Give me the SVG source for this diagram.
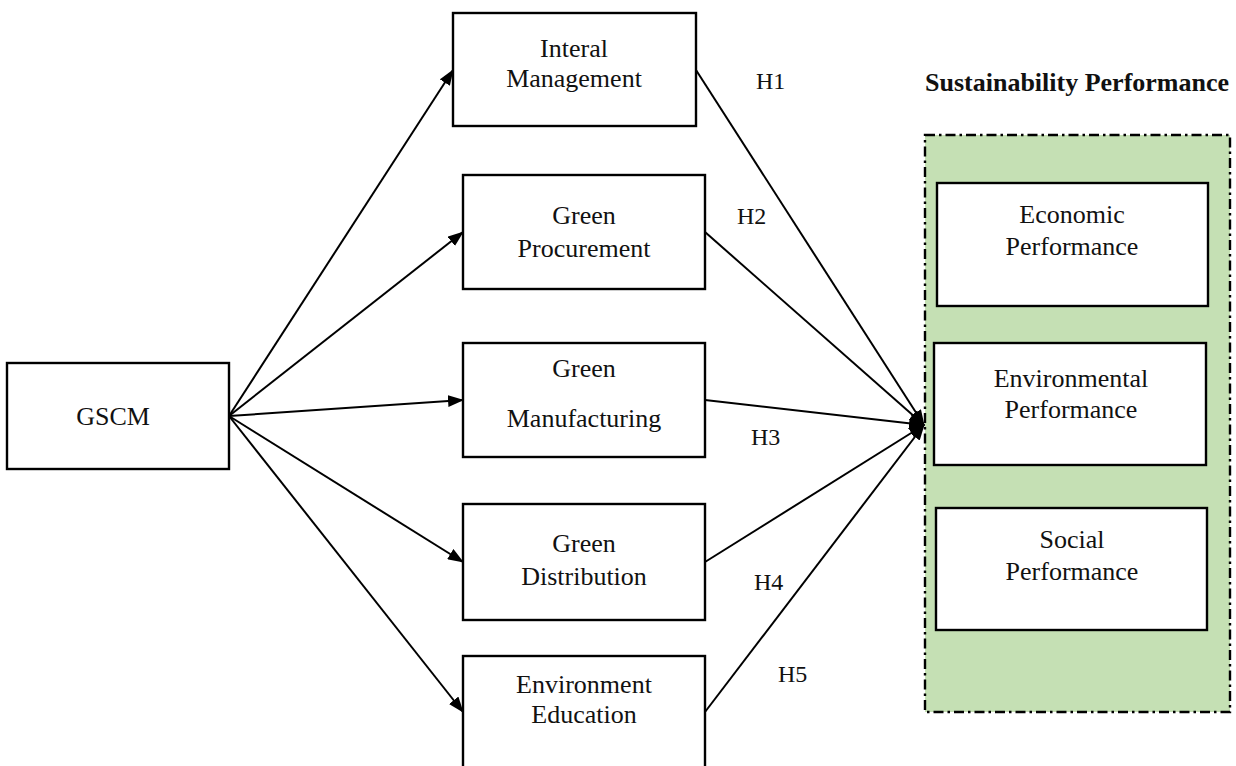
<svg xmlns="http://www.w3.org/2000/svg" width="1236" height="766" viewBox="0 0 1236 766">
  <style>
    .box { fill: #ffffff; stroke: #000000; stroke-width: 2.4; }
    .lbl { font-family: "Liberation Serif", "Times New Roman", serif; font-size: 26px; fill: #111111; text-anchor: middle; }
    .hyp { font-family: "Liberation Serif", "Times New Roman", serif; font-size: 24px; fill: #111111; }
    .title { font-family: "Liberation Serif", "Times New Roman", serif; font-size: 26px; font-weight: bold; fill: #111111; }
    .edge { stroke: #000000; stroke-width: 2; fill: none; marker-end: url(#arrow); }
    .group { fill: #c5e0b4; stroke: #000000; stroke-width: 2.4; stroke-dasharray: 10 4 2.5 4; }
  </style>
  <defs>
    <marker id="arrow" viewBox="0 0 16 12" refX="15" refY="6" markerWidth="16" markerHeight="12" markerUnits="userSpaceOnUse" orient="auto">
      <path d="M0,0 L16,6 L0,12 Z" fill="#000000"/>
    </marker>
  </defs>

  <!-- sustainability performance container -->
  <g id="sustainability">
    <rect class="group" x="925" y="135" width="305" height="577"/>
    <text class="title" x="925" y="91">Sustainability Performance</text>
  </g>

  <g id="gscm">
    <rect class="box" x="7" y="363" width="222" height="106"/>
    <text class="lbl" x="113" y="425">GSCM</text>
  </g>

  <g id="internal-management">
    <rect class="box" x="453" y="13" width="243" height="113"/>
    <text class="lbl" x="574" y="57">Interal</text>
    <text class="lbl" x="574" y="87">Management</text>
  </g>

  <g id="green-procurement">
    <rect class="box" x="463" y="175" width="242" height="114"/>
    <text class="lbl" x="584" y="224">Green</text>
    <text class="lbl" x="584" y="257">Procurement</text>
  </g>

  <g id="green-manufacturing">
    <rect class="box" x="463" y="343" width="242" height="114"/>
    <text class="lbl" x="584" y="377">Green</text>
    <text class="lbl" x="584" y="427">Manufacturing</text>
  </g>

  <g id="green-distribution">
    <rect class="box" x="463" y="504" width="242" height="116"/>
    <text class="lbl" x="584" y="552">Green</text>
    <text class="lbl" x="584" y="585">Distribution</text>
  </g>

  <g id="environment-education">
    <rect class="box" x="463" y="656" width="242" height="120"/>
    <text class="lbl" x="584" y="693">Environment</text>
    <text class="lbl" x="584" y="723">Education</text>
  </g>

  <g id="economic-performance">
    <rect class="box" x="937" y="183" width="271" height="123"/>
    <text class="lbl" x="1072" y="223">Economic</text>
    <text class="lbl" x="1072" y="255">Performance</text>
  </g>

  <g id="environmental-performance">
    <rect class="box" x="934" y="343" width="272" height="122"/>
    <text class="lbl" x="1071" y="387">Environmental</text>
    <text class="lbl" x="1071" y="418">Performance</text>
  </g>

  <g id="social-performance">
    <rect class="box" x="936" y="508" width="271" height="122"/>
    <text class="lbl" x="1072" y="548">Social</text>
    <text class="lbl" x="1072" y="580">Performance</text>
  </g>

  <!-- connectors -->
  <g id="connectors">
    <line class="edge" x1="229" y1="416" x2="453" y2="70"/>
    <line class="edge" x1="229" y1="416" x2="463" y2="232"/>
    <line class="edge" x1="229" y1="416" x2="463" y2="400"/>
    <line class="edge" x1="229" y1="416" x2="463" y2="562"/>
    <line class="edge" x1="229" y1="416" x2="463" y2="712"/>

    <line class="edge" x1="696" y1="70" x2="924" y2="425"/>
    <line class="edge" x1="705" y1="232" x2="924" y2="425"/>
    <line class="edge" x1="705" y1="400" x2="924" y2="425"/>
    <line class="edge" x1="705" y1="562" x2="924" y2="425"/>
    <line class="edge" x1="705" y1="712" x2="924" y2="425"/>
  </g>

  <g id="hypotheses">
    <text class="hyp" x="756" y="89">H1</text>
    <text class="hyp" x="737" y="224">H2</text>
    <text class="hyp" x="751" y="445">H3</text>
    <text class="hyp" x="754" y="590">H4</text>
    <text class="hyp" x="778" y="682">H5</text>
  </g>
</svg>
